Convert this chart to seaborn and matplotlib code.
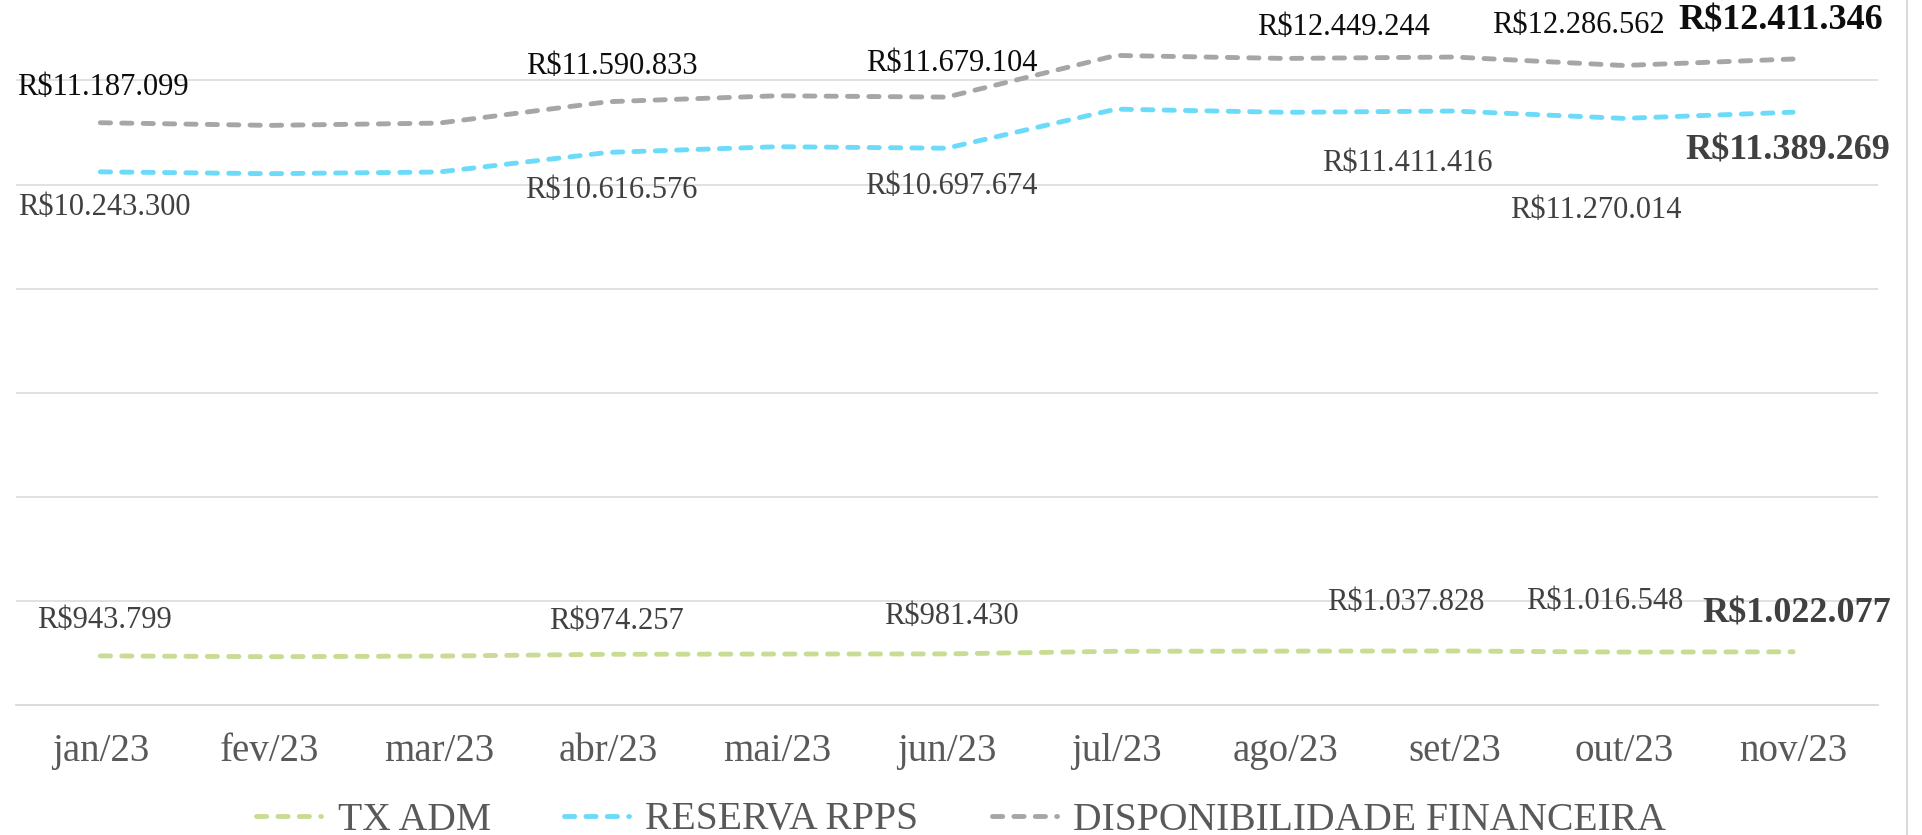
import numpy as np
import pandas as pd
import matplotlib
matplotlib.use('Agg')
import matplotlib.pyplot as plt
import seaborn as sns
from matplotlib.lines import Line2D

# Data
months = ['jan/23', 'fev/23', 'mar/23', 'abr/23', 'mai/23', 'jun/23',
          'jul/23', 'ago/23', 'set/23', 'out/23', 'nov/23']
tx_adm = [943799, 928000, 940000, 974257, 979000, 981430,
          1032000, 1035000, 1037828, 1016548, 1022077]
reserva_rpps = [10243300, 10208000, 10240000, 10616576, 10726000, 10697674,
                11448000, 11387000, 11411416, 11270014, 11389269]
disponibilidade = [11187099, 11136000, 11180000, 11590833, 11705000, 11679104,
                   12480000, 12422000, 12449244, 12286562, 12411346]
series_names = ['TX ADM', 'RESERVA RPPS', 'DISPONIBILIDADE FINANCEIRA']
labeled_idx = [0, 3, 5, 8, 9, 10]

colors = {'TX ADM': '#C9DC94', 'RESERVA RPPS': '#6BDBF9',
          'DISPONIBILIDADE FINANCEIRA': '#A6A6A6'}
text_colors = {'TX ADM': '#404040', 'RESERVA RPPS': '#404040',
               'DISPONIBILIDADE FINANCEIRA': '#0D0D0D'}
# label offsets in pixels (dx, dy down) from the point
offsets = {
    'DISPONIBILIDADE FINANCEIRA': [(3, -35), (4, -35), (5, -34), (-111, -30), (-45, -40), (-12, -38)],
    'RESERVA RPPS': [(4, 36), (3, 38), (5, 38), (-47, 52), (-28, 92), (-5, 39)],
    'TX ADM': [(4, -35), (8, -33), (5, -37), (-49, -48), (-19, -51), (4, -38)],
}

values = {'TX ADM': tx_adm, 'RESERVA RPPS': reserva_rpps,
          'DISPONIBILIDADE FINANCEIRA': disponibilidade}

df = pd.DataFrame({
    'pos': list(range(len(months))) * 3,
    'valor': tx_adm + reserva_rpps + disponibilidade,
    'serie': [s for s in series_names for _ in months],
})

sns.set_style('white')
plt.rcParams['font.family'] = ['Liberation Serif', 'DejaVu Serif']

fig = plt.figure(figsize=(19.22, 8.35), dpi=100)
ax = fig.add_axes([15.7 / 1922, 130 / 835, (1877.7 - 15.7) / 1922, 705 / 835])

lw = 3.5
dash = (2.1, 2.3)
sns.lineplot(data=df, x='pos', y='valor', hue='serie', style='serie',
             palette=colors, dashes={s: dash for s in series_names},
             linewidth=lw, ax=ax, legend=False, sort=False)
for ln in ax.lines:
    ln.set_dash_capstyle('round')

ax.set_xlim(-0.5, len(months) - 0.5)
ax.set_ylim(0, 13.545e6)
ax.set_yticks([2e6, 4e6, 6e6, 8e6, 10e6, 12e6])
ax.yaxis.grid(True, color='#D9D9D9', linewidth=1.1)
ax.set_yticklabels([])
ax.tick_params(axis='y', length=0)
ax.set_xticks(range(len(months)))
ax.set_xticklabels(months, fontsize=28, color='#595959')
ax.set_xticks(np.arange(-0.5, len(months)), minor=True)
ax.tick_params(axis='x', which='major', length=0, pad=20)
ax.tick_params(axis='x', which='minor', length=8, width=1.1, color='#D9D9D9')
ax.set_xlabel('')
ax.set_ylabel('')
for side in ['top', 'right', 'left']:
    ax.spines[side].set_visible(False)
ax.spines['bottom'].set_color('#D9D9D9')
ax.spines['bottom'].set_linewidth(1.3)

px = 72 / 100
for s in series_names:
    vals = values[s]
    for k, i in enumerate(labeled_idx):
        dx, dy = offsets[s][k]
        bold = (i == len(months) - 1)
        txt = 'R$' + f'{vals[i]:,.0f}'.replace(',', '.')
        ax.annotate(txt, xy=(i, vals[i]), xytext=(dx * px, -dy * px),
                    textcoords='offset points', ha='center', va='center',
                    fontsize=26 if bold else 22,
                    fontweight='bold' if bold else 'normal',
                    color=text_colors[s], annotation_clip=False)

handles = [Line2D([0], [0], color=colors[s], linewidth=lw, linestyle=(0, dash),
                  dash_capstyle='round') for s in series_names]
fig.legend(handles, series_names, loc='center', bbox_to_anchor=(0.5, 15 / 835),
           ncol=3, frameon=False, fontsize=28.5, labelcolor='#595959',
           handlelength=1.65, handletextpad=0.41, columnspacing=1.85)

fig.add_artist(Line2D([1907 / 1922, 1907 / 1922], [0, 1], color='#D9D9D9',
                      linewidth=1.5, transform=fig.transFigure))

fig.savefig('out.png', dpi=100)
